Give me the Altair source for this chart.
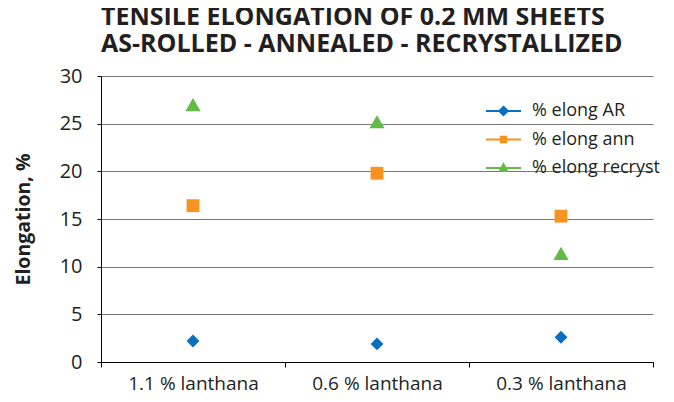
import altair as alt
import pandas as pd

categories = ["1.1 % lanthana", "0.6 % lanthana", "0.3 % lanthana"]
series_names = ["% elong AR", "% elong ann", "% elong recryst"]
elong_ar = [2.2, 1.9, 2.6]
elong_ann = [16.4, 19.8, 15.3]
elong_recryst = [27.0, 25.2, 11.4]
y_ticks = [0, 5, 10, 15, 20, 25, 30]

colors = ["#0a6fc0", "#f7931e", "#62bb46"]
plot_shapes = ["diamond", "square", "triangle-up"]
plot_sizes = [165, 165, 230]
legend_shapes = [
    "M-1.75,0H1.75M0,-0.42L0.42,0L0,0.42L-0.42,0Z",
    "M-1.75,0H1.75M-0.27,-0.27H0.27V0.27H-0.27Z",
    "M-1.75,0H1.75M0,-0.38L0.36,0.3L-0.36,0.3Z",
]

rows = []
for s, vals in zip(series_names, [elong_ar, elong_ann, elong_recryst]):
    for c, v in zip(categories, vals):
        rows.append({"category": c, "series": s, "value": v})
df = pd.DataFrame(rows)

x_enc = alt.X(
    "category:N",
    sort=categories,
    title=None,
    scale=alt.Scale(paddingInner=0, paddingOuter=0),
    axis=alt.Axis(
        labelAngle=0,
        labelFont="Open Sans",
        labelFontSize=19,
        labelColor="#231f20",
        labelPadding=7,
        tickBand="extent",
        tickSize=5,
        tickColor="#000000",
        domainColor="#000000",
        grid=False,
    ),
)
y_enc = alt.Y(
    "value:Q",
    scale=alt.Scale(domain=[0, 30], nice=False),
    axis=alt.Axis(
        values=y_ticks,
        title="Elongation, %",
        titleFont="Open Sans",
        titleFontSize=19.5,
        titleFontWeight="bold",
        titleColor="#231f20",
        titlePadding=26,
        labelFont="Open Sans",
        labelFontSize=20,
        labelColor="#231f20",
        labelPadding=15,
        tickSize=4,
        tickColor="#000000",
        domainColor="#000000",
        gridColor="#777777",
        gridWidth=1,
    ),
)

layers = []
for i, s in enumerate(series_names):
    layers.append(
        alt.Chart(df)
        .transform_filter(alt.datum.series == s)
        .mark_point(filled=True, opacity=1, shape=plot_shapes[i], size=plot_sizes[i], color=colors[i])
        .encode(x=x_enc, y=y_enc)
    )

leg = alt.Legend(
    title=None,
    orient="none",
    legendX=391.5,
    legendY=24,
    padding=0,
    symbolSize=400,
    symbolStrokeWidth=2,
    labelOffset=17.5,
    rowPadding=8.5,
    labelFont="Open Sans",
    labelFontSize=18,
    labelColor="#231f20",
)

legend_layer = (
    alt.Chart(df)
    .transform_filter("false")
    .mark_point(opacity=1, strokeWidth=2)
    .encode(
        x=alt.X("category:N", sort=categories),
        y=alt.Y("value:Q"),
        fill=alt.Fill("series:N", scale=alt.Scale(domain=series_names, range=colors), legend=leg),
        stroke=alt.Stroke("series:N", scale=alt.Scale(domain=series_names, range=colors), legend=leg),
        shape=alt.Shape("series:N", scale=alt.Scale(domain=series_names, range=legend_shapes), legend=leg),
    )
)

chart = (
    alt.layer(*layers, legend_layer)
    .properties(
        width=552,
        height=286,
        autosize=alt.AutoSizeParams(type="none"),
        padding={"left": 93, "top": 68, "right": 10, "bottom": 32},
        title=alt.TitleParams(
            text=["TENSILE ELONGATION OF 0.2 MM SHEETS", "AS-ROLLED - ANNEALED - RECRYSTALLIZED"],
            anchor="start",
            frame="group",
            font="Open Sans",
            fontSize=25,
            fontWeight="bold",
            color="#231f20",
            lineHeight=27,
            offset=9,
        ),
    )
    .configure_view(stroke=None)
    .configure_axis(domainWidth=1, tickWidth=1)
)

chart.save("out.html", embed_options={"renderer": "svg", "actions": False})
